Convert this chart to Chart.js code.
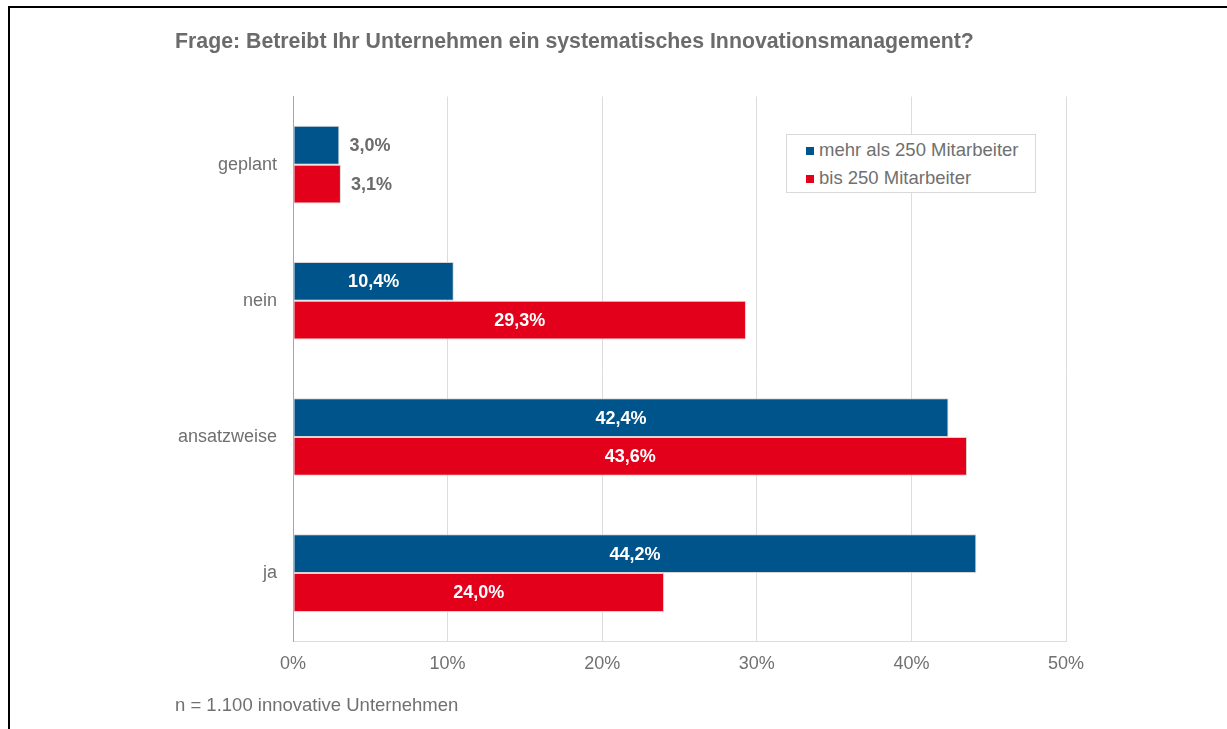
<!DOCTYPE html>
<html>
<head>
<meta charset="utf-8">
<script src="https://cdn.jsdelivr.net/npm/chart.js@4.4.1/dist/chart.umd.min.js"></script>
<style>
  html, body { margin:0; padding:0; background:#fff; }
  #wrap { position:relative; width:1227px; height:729px; overflow:hidden; font-family:"Liberation Sans", Arial, sans-serif; }
  #frame { position:absolute; left:8px; top:6px; width:1240px; height:760px; border-top:2px solid #000; border-left:2px solid #000; box-sizing:border-box; pointer-events:none; }
  #legend { position:absolute; left:786px; top:134px; width:250px; height:59px; border:1px solid #d9d9d9; box-sizing:border-box; background:#fff; }
  .li { position:absolute; left:19px; height:22px; font-size:18.5px; line-height:22px; color:#707070; white-space:nowrap; }
  .sw { display:inline-block; width:8px; height:8px; margin-right:5px; vertical-align:1px; }
  canvas { position:absolute; left:0; top:0; }
</style>
</head>
<body>
<div id="wrap">
  <canvas id="c" width="1227" height="729"></canvas>
  <div id="legend"></div>
  <div id="frame"></div>
</div>
<script>
const titleText = "Frage: Betreibt Ihr Unternehmen ein systematisches Innovationsmanagement?";
const noteText = "n = 1.100 innovative Unternehmen";
const categories = ["geplant", "nein", "ansatzweise", "ja"];
const seriesNames = ["mehr als 250 Mitarbeiter", "bis 250 Mitarbeiter"];
const seriesLarge = [3.0, 10.4, 42.4, 44.2];
const seriesSmall = [3.1, 29.3, 43.6, 24.0];
const xTicks = [0, 10, 20, 30, 40, 50];
const colors = ["#00548c", "#e2001a"];

const FONT = "'Liberation Sans', Arial, sans-serif";
const GRAY = "#707070";

function fmt(v) { return v.toFixed(1).replace('.', ',') + '%'; }

const labelPlugin = {
  id: 'barLabels',
  afterDatasetsDraw(chart) {
    const ctx = chart.ctx;
    ctx.save();
    ctx.font = "bold 18px " + FONT;
    ctx.textBaseline = 'middle';
    chart.data.datasets.forEach((ds, di) => {
      const meta = chart.getDatasetMeta(di);
      meta.data.forEach((el, i) => {
        const v = ds.data[i];
        const p = el.getProps(['x', 'y', 'base'], true);
        if (v >= 8) {
          ctx.fillStyle = '#ffffff';
          ctx.textAlign = 'center';
          ctx.fillText(fmt(v), (p.x + p.base) / 2, p.y + 1);
        } else {
          ctx.fillStyle = '#6b6b6b';
          ctx.textAlign = 'left';
          ctx.fillText(fmt(v), p.x + 10, p.y + 1);
        }
      });
    });
    ctx.restore();
  }
};

const chart = new Chart(document.getElementById('c'), {
  type: 'bar',
  data: {
    labels: categories,
    datasets: [
      { label: seriesNames[0], data: seriesLarge, backgroundColor: colors[0], borderColor: 'rgba(210,210,210,0.9)', borderWidth: 1, borderSkipped: false },
      { label: seriesNames[1], data: seriesSmall, backgroundColor: colors[1], borderColor: 'rgba(210,210,210,0.9)', borderWidth: 1, borderSkipped: false }
    ]
  },
  options: {
    indexAxis: 'y',
    responsive: false,
    animation: false,
    devicePixelRatio: 1,
    layout: { padding: { left: 175, right: 161, top: 26, bottom: 12 } },
    datasets: { bar: { categoryPercentage: 0.57, barPercentage: 1.0 } },
    plugins: {
      legend: { display: false },
      tooltip: { enabled: false },
      title: {
        display: true, text: titleText, align: 'start', color: '#6b6b6b',
        font: { family: FONT, size: 21.3, weight: 'bold' },
        padding: { top: 3, bottom: 42 }
      },
      subtitle: {
        display: true, text: noteText, position: 'bottom', align: 'start', color: GRAY,
        font: { family: FONT, size: 18.5, weight: 'normal' },
        padding: { top: 8, bottom: 0 }
      }
    },
    scales: {
      x: {
        type: 'linear', min: xTicks[0], max: xTicks[xTicks.length - 1],
        afterBuildTicks(scale) { scale.ticks = xTicks.map(v => ({ value: v })); },
        ticks: { callback: v => v + '%', color: GRAY, font: { family: FONT, size: 18 }, padding: 12, maxRotation: 0 },
        grid: { color: ctx => (ctx.tick && ctx.tick.value === 0) ? 'rgba(0,0,0,0)' : '#dcdcdc', drawTicks: false, lineWidth: 1 },
        border: { display: true, color: '#dcdcdc' }
      },
      y: {
        afterFit(scale) { scale.width = 118; },
        ticks: { color: GRAY, font: { family: FONT, size: 18 }, padding: 16 },
        grid: { display: false, drawTicks: false },
        border: { display: true, color: '#a6a6a6' }
      }
    }
  },
  plugins: [labelPlugin]
});

// legend built from series data
const leg = document.getElementById('legend');
seriesNames.forEach((name, i) => {
  const d = document.createElement('div');
  d.className = 'li';
  d.style.top = (i === 0 ? 4 : 32) + 'px';
  const s = document.createElement('span');
  s.className = 'sw';
  s.style.background = colors[i];
  d.appendChild(s);
  d.appendChild(document.createTextNode(name));
  leg.appendChild(d);
});
</script>
</body>
</html>
